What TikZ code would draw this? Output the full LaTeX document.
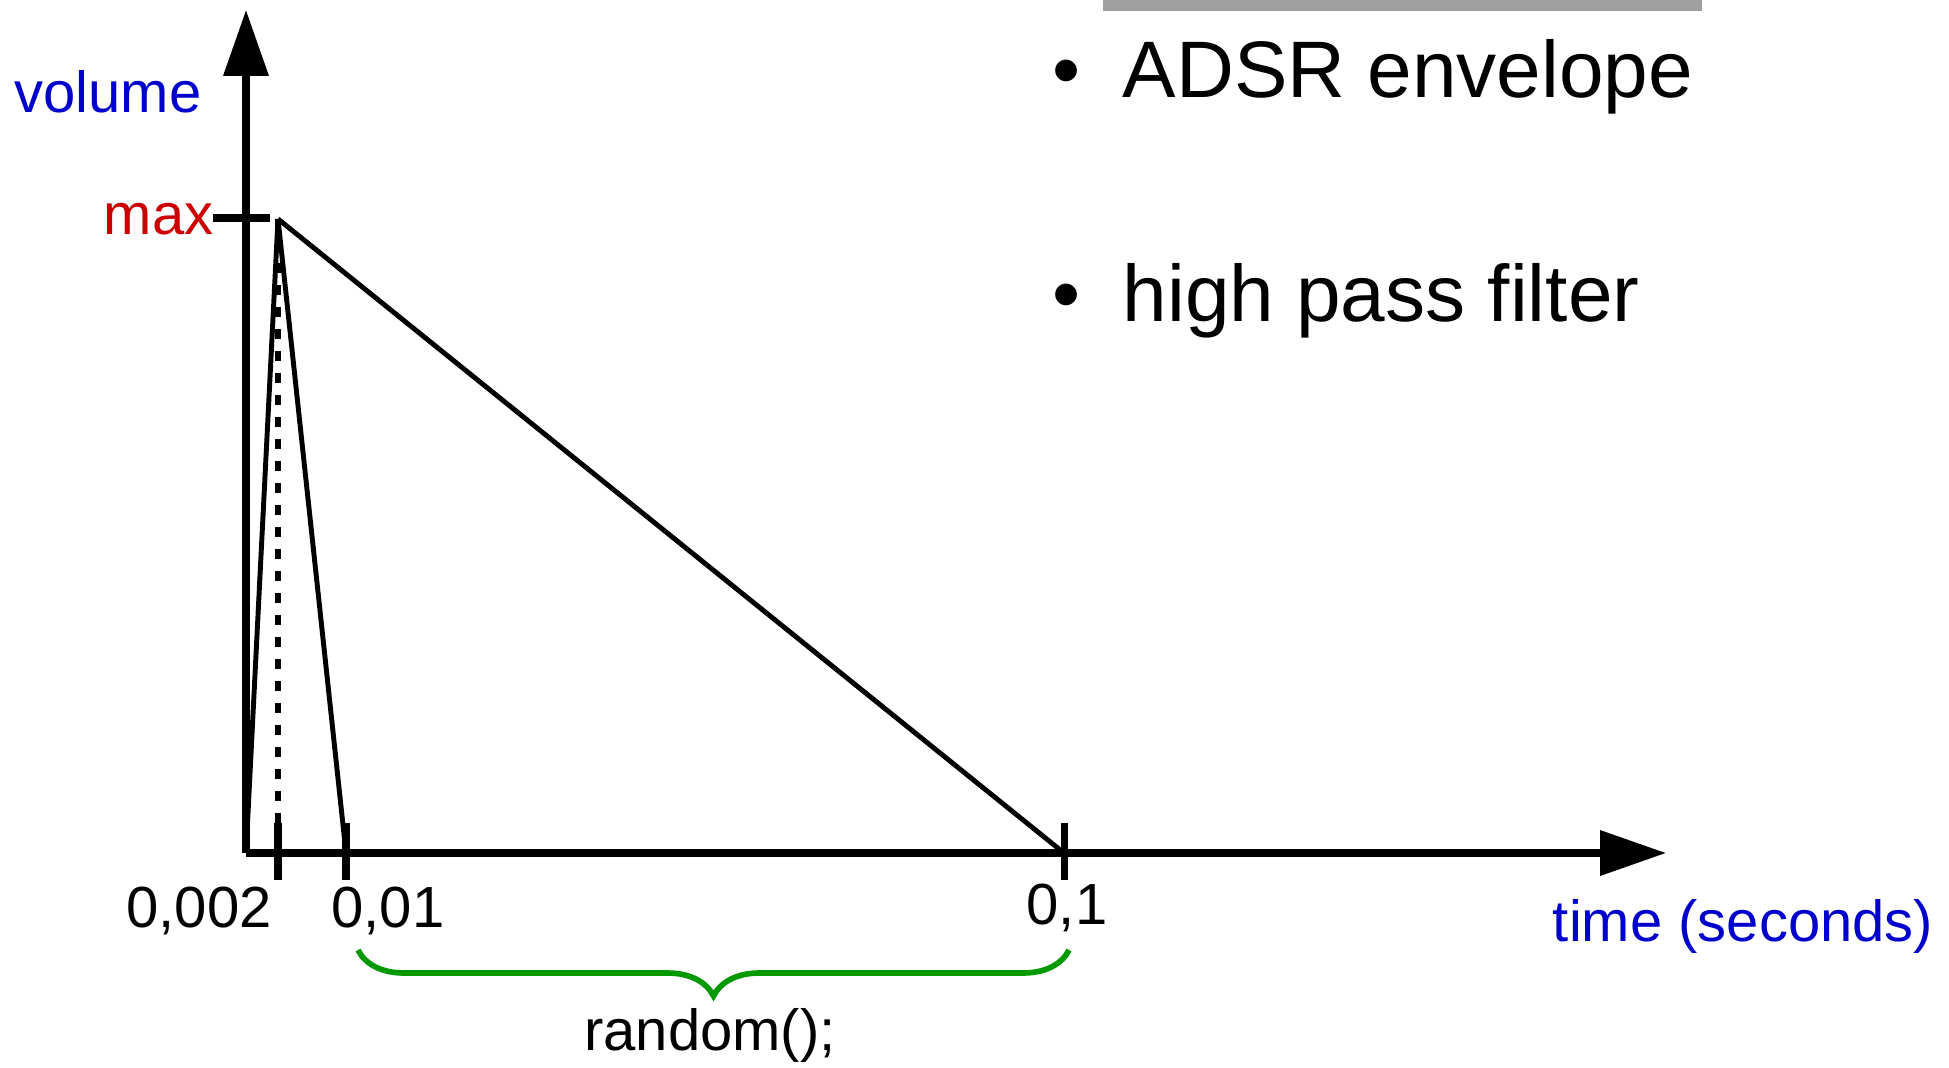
\documentclass[tikz,border=0pt]{standalone}
\usepackage{fontspec}
\setmainfont{Liberation Sans}
\usepackage{xcolor}
\usepackage{tikz}
\usetikzlibrary{arrows.meta,decorations.pathreplacing}
\definecolor{axisblue}{HTML}{0000CC}
\definecolor{maxred}{HTML}{CC0000}
\definecolor{bracegreen}{HTML}{009900}
\definecolor{barfill}{HTML}{A0A0A0}
\tikzset{
  axis/.style={line width=2pt,-{Triangle[length=6.6mm,width=4.4mm]}},
  tickmark/.style={line width=2pt},
  envelope/.style={line width=1.4pt},
  axislabel/.style={font=\fontsize{16.5}{20}\selectfont,inner sep=0pt,anchor=base},
  bullet/.style={font=\fontsize{22.8}{27}\selectfont,inner sep=0pt,anchor=base west}
}

\begin{document}
\begin{tikzpicture}
  \useasboundingbox (0,0) rectangle (19.49,10.67);
  \fill[barfill] (11.03,10.56) rectangle (17.02,10.67);

  % points of the envelope
  \coordinate (origin) at (2.46,2.14);
  \coordinate (peak) at (2.78,8.48);
  \coordinate (t002) at (2.78,2.14);
  \coordinate (t01) at (3.46,2.14);
  \coordinate (t1) at (10.64,2.14);
  \coordinate (ytip) at (2.46,10.57);
  \coordinate (xtip) at (16.66,2.14);

  \draw[axis] (origin) -- (ytip);
  \draw[axis] (origin) -- (xtip);
  \draw[tickmark] (2.13,8.49) -- (2.70,8.49);
  \foreach \t in {t002,t01,t1}
    \draw[tickmark] ([yshift=3mm]\t) -- ([yshift=-2.7mm]\t);

  \draw[envelope] (origin) -- (peak) -- (t01);
  \draw[envelope] (peak) -- (t1);
  \draw[line width=1.7pt,dash pattern=on 1mm off 1.2mm] (peak) -- (t002);

  \node[axislabel,text=axisblue] (volume) at (1.08,9.55) {volume};
  \node[axislabel,text=maxred,anchor=base east] (max) at (2.14,8.33) {max};
  \node[axislabel] (l002) at (1.99,1.40) {0,002};
  \node[axislabel] (l01) at (3.88,1.40) {0,01};
  \node[axislabel] (l1) at (10.67,1.43) {0,1};
  \node[axislabel,text=axisblue] (time) at (17.43,1.26) {time (seconds)};

  \draw[bracegreen,line width=1.6pt,decorate,
    decoration={brace,amplitude=4.6mm}] (10.69,1.17) -- (3.58,1.17);
  \node[axislabel] (random) at (7.10,0.17) {random();};

  \node[bullet] (adsr) at (10.52,9.70) {\textbullet\hspace{0.42cm}ADSR envelope};
  \node[bullet] (filter) at (10.52,7.46) {\textbullet\hspace{0.42cm}high pass filter};
\end{tikzpicture}
\end{document}
